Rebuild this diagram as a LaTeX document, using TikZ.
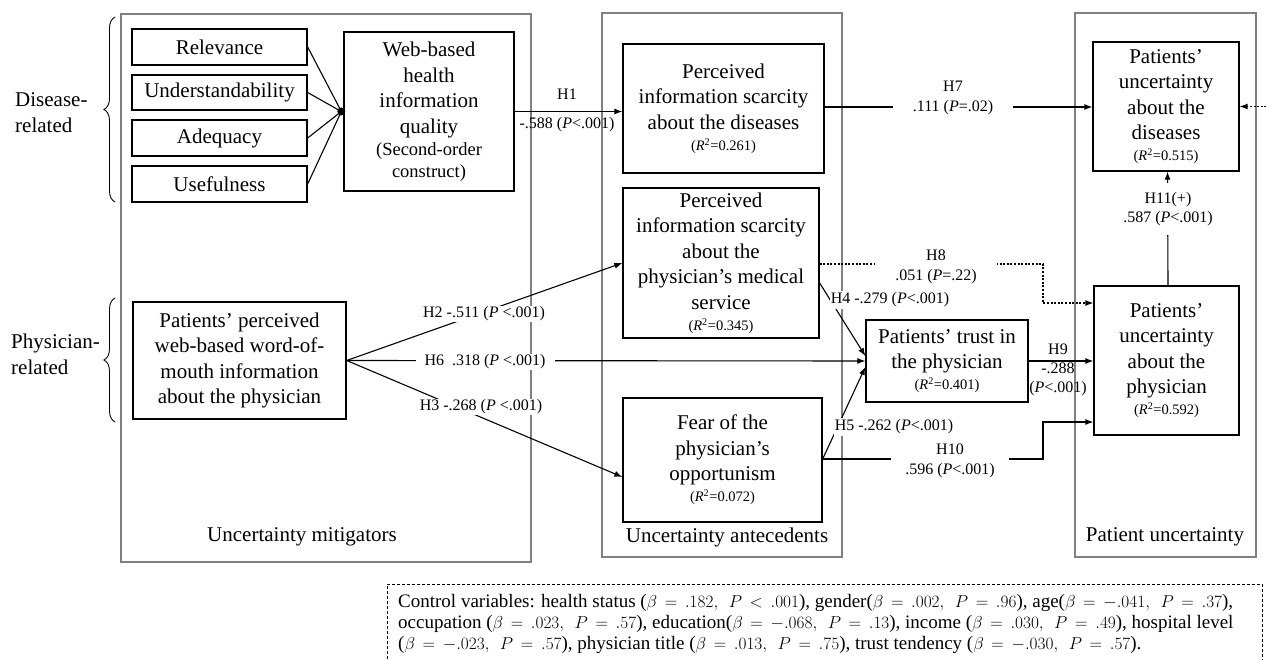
\documentclass[tikz,border=0pt]{standalone}
\usepackage{fontspec}
\setmainfont{Liberation Serif}
\usetikzlibrary{arrows.meta,decorations.pathreplacing}
\newcommand\myfA{\fontsize{21}{25.5}\selectfont}
\newcommand\myfB{\fontsize{16}{19.5}\selectfont}
\newcommand\myfC{\fontsize{18.5}{22}\selectfont}
\newcommand\myfR{\fontsize{14.5}{17}\selectfont}
\newcommand\myfD{\fontsize{19}{21.3}\selectfont\thickmuskip=8mu plus 2mu\relax}
\newcommand\rsq[1]{{\myfR(\textit{R}\textsuperscript{2}=#1)}}
\newcommand\cv[2]{($\beta = #1,\; P = #2$)}
\begin{document}
\begin{tikzpicture}[x=1pt,y=-1pt,
  box/.style={draw=black,line width=1.3pt,fill=white,align=center,inner sep=0pt,font=\myfA},
  grp/.style={draw=black!50,line width=1.1pt},
  conn/.style={line width=1.1pt,-{Latex[length=8pt,width=6pt]}},
  plain/.style={line width=1.1pt},
  dotconn/.style={line width=1.1pt,dash pattern=on 2pt off 1.6pt,-{Latex[length=8pt,width=6pt]}},
  lab/.style={font=\myfB,align=center,inner sep=1pt},
  wlab/.style={lab,fill=white},
  side/.style={font=\myfA,align=left,inner sep=0pt,anchor=west},
  brc/.style={decorate,decoration={brace,amplitude=11pt},line width=0.9pt},
  grptitle/.style={font=\myfA,inner sep=0pt}
]
\useasboundingbox (0,0) rectangle (1266,660);
% group frames
\draw[grp] (121,14) rectangle (531,562);
\draw[grp] (602,13) rectangle (842,557);
\draw[grp] (1075,13) rectangle (1256,557);
\node[grptitle] (tmit) at (302,537) {Uncertainty mitigators};
\node[grptitle] (tant) at (727,537) {Uncertainty antecedents};
\node[grptitle] (tpat) at (1165,537) {Patient uncertainty};
% side labels and braces
\node[side] (disl) at (15,112.5) {Disease-\\related};
\node[side] (phyl) at (11,354.5) {Physician-\\related};
\draw[brc] (115,202) -- (115,17);
\draw[brc] (115,422) -- (115,298);
% boxes
\node[box,minimum width=175pt,minimum height=36pt] (rel) at (219.5,47) {Relevance};
\node[box,minimum width=175pt,minimum height=35pt] (und) at (219.5,92.5) {Understandability};
\node[box,minimum width=175pt,minimum height=36pt] (ade) at (219.5,138) {Adequacy};
\node[box,minimum width=175pt,minimum height=36pt] (use) at (219.5,184) {Usefulness};
\node[box,minimum width=170pt,minimum height=159pt] (web) at (429,111.5)
  {Web-based\\health\\information\\quality\\[-3.5pt]{\myfC(Second-order}\\[-3.5pt]{\myfC construct)}};
\node[box,minimum width=213pt,minimum height=117pt] (wom) at (239.5,360.5)
  {Patients’ perceived\\web-based word-of-\\mouth information\\about the physician};
\node[box,minimum width=201pt,minimum height=129pt] (dscar) at (723.5,108.5)
  {Perceived\\information scarcity\\about the diseases\\[-4.5pt]\rsq{0.261}};
\node[box,minimum width=196pt,minimum height=150pt] (pscar) at (721,263)
  {Perceived\\information scarcity\\about the\\physician’s medical\\service\\[-4.5pt]\rsq{0.345}};
\node[box,minimum width=199pt,minimum height=124pt] (fear) at (722.5,460)
  {Fear of the\\physician’s\\opportunism\\[-4.5pt]\rsq{0.072}};
\node[box,minimum width=162pt,minimum height=82pt] (trust) at (947,361)
  {Patients’ trust in\\the physician\\[-4.5pt]\rsq{0.401}};
\node[box,minimum width=146pt,minimum height=129pt] (udis) at (1166,106.5)
  {Patients’\\uncertainty\\about the\\diseases\\[-4.5pt]\rsq{0.515}};
\node[box,minimum width=145pt,minimum height=149pt] (uphy) at (1166.5,360.5)
  {Patients’\\uncertainty\\about the\\physician\\[-4.5pt]\rsq{0.592}};
% second-order construct
\node[circle,fill=black,inner sep=0pt,minimum size=8pt] (dot) at ([xshift=-2pt]web.west) {};
\draw[plain] (rel.east) -- (dot.center);
\draw[plain] (und.east) -- (dot.center);
\draw[plain] (ade.east) -- (dot.center);
\draw[plain] (use.east) -- (dot.center);
% connectors
\draw[conn] (web.east) -- (web.east -| dscar.west);
\draw[conn] ([yshift=1.5pt]dscar.east) -- ([yshift=1.5pt]dscar.east -| udis.west);
\draw[conn] (wom.east) -- (pscar.west);
\draw[conn] (wom.east) -- (trust.west);
\draw[conn] (wom.east) -- ([yshift=-17pt]fear.west);
\draw[conn] ([yshift=-20pt]pscar.east) -- ([yshift=5pt]trust.west);
\draw[conn] ([yshift=1pt]fear.east) -- ([yshift=-6pt]trust.west);
\draw[conn] (trust.east) -- (trust.east -| uphy.west);
\coordinate (k10) at (1043,0);
\draw[conn] ([yshift=1pt]fear.east) -- ([yshift=1pt]fear.east -| k10) |- ([yshift=-61.5pt]uphy.west);
\draw[dotconn] ([yshift=-1pt]pscar.east) -- ([yshift=-1pt]pscar.east -| k10) |- ([yshift=57.5pt]uphy.west);
\draw[conn] ([xshift=1.5pt]uphy.north) -- ([xshift=1.5pt]udis.south);
\coordinate (ext) at (1270,106.5);
\draw[dotconn] (ext) -- (udis.east);
% labels
\node[lab] (l1a) at (567,94) {H1};
\node[lab] (l1b) at (567,125) {-.588 (\textit{P}<.001)};
\node[wlab,inner xsep=10pt] (l2) at (484,314) {H2 -.511 (\textit{P} <.001)};
\node[wlab,inner xsep=9pt] (l6) at (485,362) {H6\ \ .318 (\textit{P} <.001)};
\node[wlab,inner xsep=10pt] (l3) at (481,407) {H3 -.268 (\textit{P} <.001)};
\node[wlab,inner ysep=2pt] (l4) at (890,300) {H4 -.279 (\textit{P}<.001)};
\node[wlab,inner ysep=2pt] (l5) at (894,427) {H5 -.262 (\textit{P}<.001)};
\node[wlab,inner xsep=20pt] (l7) at (953,98) {H7\\.111 (\textit{P}=.02)};
\node[wlab,inner xsep=20pt] (l8) at (936,267) {H8\\.051 (\textit{P}=.22)};
\node[lab,font=\fontsize{16}{19}\selectfont] (l9) at (1058,370) {H9\\-.288\\(\textit{P}<.001)};
\node[wlab,inner xsep=14pt] (l10) at (950,461) {H10\\.596 (\textit{P}<.001)};
\node[wlab,inner ysep=9pt] (l11) at (1168,209) {H11(+)\\.587 (\textit{P}<.001)};
% control variables
\draw[line width=0.9pt,dash pattern=on 3pt off 2pt] (387,664) -- (387,584) -- (1262,584) -- (1262,664);
\node[anchor=north west,align=left,font=\myfD,inner sep=0pt] (ctrl) at (398,594)
  {Control variables: health status ($\beta = .182,\; P < .001$), gender\cv{.002}{.96}, age\cv{-.041}{.37},\\
   occupation \cv{.023}{.57}, education\cv{-.068}{.13}, income \cv{.030}{.49}, hospital level\\
   \cv{-.023}{.57}, physician title \cv{.013}{.75}, trust tendency \cv{-.030}{.57}.};
\end{tikzpicture}
\end{document}
